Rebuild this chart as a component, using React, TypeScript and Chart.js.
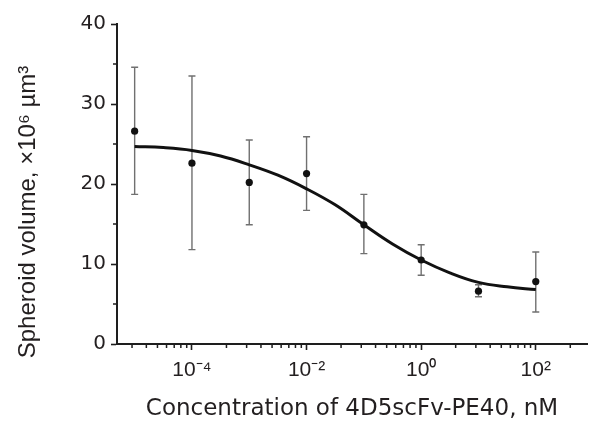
import React, { useEffect, useRef } from "react";
import { Chart, registerables } from "chart.js";

Chart.register(...registerables);

// ---- data ----
const concentrations = [1e-5, 1e-4, 1e-3, 1e-2, 1e-1, 1, 10, 100];
const meanVolume = [26.6, 22.6, 20.2, 21.3, 14.9, 10.5, 6.6, 7.8];
const errorHigh = [34.6, 33.5, 25.5, 25.9, 18.7, 12.4, 7.4, 11.5];
const errorLow = [18.7, 11.8, 14.9, 16.7, 11.3, 8.6, 5.9, 4.0];

const fitConcentrations = [
  1e-5, 3.16e-5, 1e-4, 3.16e-4, 1e-3, 3.16e-3, 1e-2, 3.16e-2, 1e-1, 3.16e-1, 1, 3.16, 10, 31.6, 100,
];
const fitVolume = [24.7, 24.55, 24.2, 23.5, 22.4, 21.1, 19.4, 17.4, 14.9, 12.5, 10.5, 8.9, 7.7, 7.15, 6.8];

const xTickValues = [1e-4, 1e-2, 1, 100];
const xTickLabels = ["10⁻⁴", "10⁻²", "10⁰", "10²"];
const xMinorBases = [1e-6, 1e-4, 1e-2, 1, 100];
const xMinorMultipliers = [4, 9, 16, 25, 36, 49, 64, 81];
const yTickValues = [0, 10, 20, 30, 40];
const yMinorValues = [5, 15, 25, 35];
const xMin = 4.92e-6;
const xMax = 783;
const yMin = 0;
const yMax = 40;

const xTitle = "Concentration of 4D5scFv-PE40, nM";
const yTitle = "Spheroid volume, ×10⁶ µm³";

const TEXT = "#231f20";
const AXIS = "#1e1e1e";

const errorBarPlugin = {
  id: "errorBars",
  beforeDatasetsDraw(chart: any) {
    const { ctx } = chart;
    const x = chart.scales.x;
    const y = chart.scales.y;
    ctx.save();
    ctx.strokeStyle = "#707070";
    ctx.lineWidth = 1.4;
    concentrations.forEach((c, i) => {
      const px = x.getPixelForValue(c);
      const top = y.getPixelForValue(errorHigh[i]);
      const bot = y.getPixelForValue(errorLow[i]);
      ctx.beginPath();
      ctx.moveTo(px, top);
      ctx.lineTo(px, bot);
      ctx.moveTo(px - 3.5, top);
      ctx.lineTo(px + 3.5, top);
      ctx.moveTo(px - 3.5, bot);
      ctx.lineTo(px + 3.5, bot);
      ctx.stroke();
    });
    ctx.restore();
  },
};

const minorTickPlugin = {
  id: "minorTicks",
  afterDraw(chart: any) {
    const { ctx } = chart;
    const x = chart.scales.x;
    const y = chart.scales.y;
    ctx.save();
    ctx.strokeStyle = AXIS;
    ctx.lineWidth = 1.5;
    ctx.beginPath();
    xMinorBases.forEach((b) => {
      xMinorMultipliers.forEach((m) => {
        const v = b * m;
        if (v < xMin || v > xMax) return;
        const px = x.getPixelForValue(v);
        ctx.moveTo(px, x.top);
        ctx.lineTo(px, x.top + 4);
      });
    });
    yMinorValues.forEach((v) => {
      const py = y.getPixelForValue(v);
      ctx.moveTo(y.right, py);
      ctx.lineTo(y.right - 4, py);
    });
    ctx.stroke();
    ctx.restore();
  },
};

const yTitlePlugin = {
  id: "yTitle",
  afterDraw(chart: any) {
    const { ctx } = chart;
    ctx.save();
    ctx.translate(28, 212);
    ctx.rotate(-Math.PI / 2);
    ctx.font = "24px 'Liberation Sans', Arial, sans-serif";
    ctx.fillStyle = TEXT;
    ctx.textAlign = "center";
    ctx.textBaseline = "middle";
    ctx.fillText(yTitle, 0, 0);
    ctx.restore();
  },
};

export default function App() {
  const canvasRef = useRef<HTMLCanvasElement | null>(null);

  useEffect(() => {
    if (!canvasRef.current) return;
    const chart = new Chart(canvasRef.current, {
      type: "scatter",
      data: {
        datasets: [
          {
            label: "Measured",
            data: concentrations.map((c, i) => ({ x: c, y: meanVolume[i] })),
            pointRadius: 3.6,
            pointBackgroundColor: "#111",
            pointBorderWidth: 0,
            showLine: false,
          },
          {
            label: "Fit",
            data: fitConcentrations.map((c, i) => ({ x: c, y: fitVolume[i] })),
            showLine: true,
            borderColor: "#111",
            borderWidth: 3,
            pointRadius: 0,
            tension: 0.4,
            fill: false,
          },
        ],
      },
      options: {
        animation: false,
        responsive: false,
        maintainAspectRatio: false,
        layout: { padding: { top: 24, right: 0, bottom: 0, left: 0 } },
        plugins: {
          legend: { display: false },
          tooltip: { enabled: false },
        },
        scales: {
          x: {
            type: "logarithmic",
            min: xMin,
            max: xMax,
            afterBuildTicks(scale: any) {
              scale.ticks = xTickValues.map((v) => ({ value: v }));
            },
            afterFit(scale: any) {
              scale.height = 77;
            },
            ticks: {
              autoSkip: false,
              maxRotation: 0,
              padding: 8,
              color: TEXT,
              font: { family: "'Liberation Sans', Arial, sans-serif", size: 21 },
              callback: (value: any) => {
                const idx = xTickValues.findIndex((v) => Math.abs(Math.log10(v) - Math.log10(Number(value))) < 1e-6);
                return idx >= 0 ? xTickLabels[idx] : "";
              },
            },
            grid: {
              drawOnChartArea: false,
              drawTicks: true,
              tickLength: 6,
              tickColor: AXIS,
              tickWidth: 1.6,
            },
            border: { display: true, color: AXIS, width: 2 },
            title: {
              display: true,
              text: xTitle,
              color: TEXT,
              font: { family: "'DejaVu Sans', sans-serif", size: 23, lineHeight: 1 },
              padding: { top: 0, bottom: 0 },
            },
          },
          y: {
            type: "linear",
            min: yMin,
            max: yMax,
            afterBuildTicks(scale: any) {
              scale.ticks = yTickValues.map((v) => ({ value: v }));
            },
            afterFit(scale: any) {
              scale.width = 117;
            },
            ticks: {
              padding: 5,
              color: TEXT,
              font: { family: "'DejaVu Sans', sans-serif", size: 20 },
            },
            grid: {
              drawOnChartArea: false,
              drawTicks: true,
              tickLength: 6,
              tickColor: AXIS,
              tickWidth: 1.6,
            },
            border: { display: true, color: AXIS, width: 2 },
          },
        },
      },
      plugins: [errorBarPlugin, minorTickPlugin, yTitlePlugin],
    } as any);
    return () => chart.destroy();
  }, []);

  return (
    <div style={{ position: "fixed", left: 0, top: 0, width: 591, height: 421, background: "#fff" }}>
      <canvas ref={canvasRef} width={591} height={421} style={{ display: "block", width: 591, height: 421 }} />
    </div>
  );
}
